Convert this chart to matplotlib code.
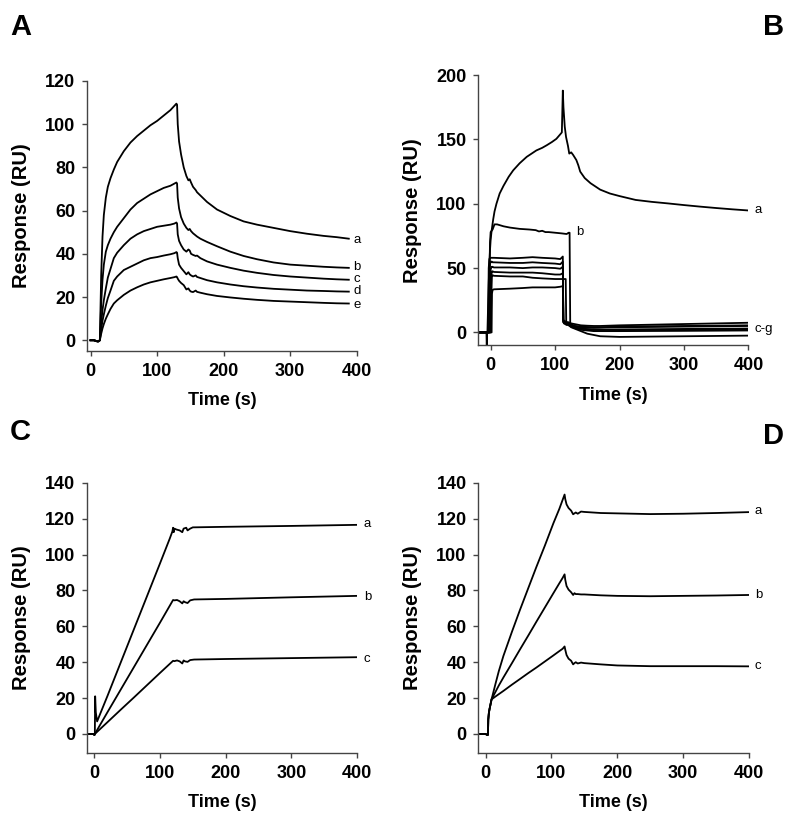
import matplotlib
matplotlib.use("Agg")
import matplotlib.pyplot as plt

plt.rcParams["font.family"] = ["Liberation Sans", "DejaVu Sans"]

# ---------------- Panel A ----------------
A_T = [0, 5, 10, 12, 14, 16, 18, 20, 23, 26, 30, 35, 40, 50, 60, 70, 80, 90, 100, 110,
       120, 126, 129, 130, 131, 133, 136, 140, 144, 147, 149, 151, 154, 158, 160, 165,
       175, 190, 210, 230, 250, 275, 300, 325, 350, 370, 388]
A_a = [0, 0, -0.5, -0.5, 0, 30, 48, 58, 66, 71, 75, 79, 82.5, 87.5, 91.5, 94.5, 97, 99.5, 101.5, 104,
       106.5, 108.5, 109.5, 109, 100, 92, 86, 80, 76, 74, 74.5, 73, 71, 69.5, 68.5, 67,
       64, 60.5, 57.5, 55, 53.5, 52, 50.5, 49.3, 48.3, 47.7, 47]
A_b = [0, 0, -0.5, -0.5, 0, 17, 28, 35, 41, 44, 47, 50, 52.5, 56.5, 60.5, 63.5, 65.5, 67.5, 69, 70.5,
       71.5, 72.5, 73, 72.5, 66, 61, 57, 54, 52, 51, 51.5, 50.5, 49.5, 48.5, 48, 47,
       45.5, 43.5, 41, 39, 37.5, 36, 35, 34.5, 34, 33.7, 33.5]
A_c = [0, 0, -0.5, -0.5, 0, 8, 14, 18.5, 24, 29, 33, 38, 40.5, 44, 47, 49, 50.5, 51.5, 52.5, 53,
       53.5, 54, 54.5, 54, 49, 46, 44, 42, 41, 42, 41.5, 40, 39.5, 39, 39.2, 38,
       36.5, 35, 33.5, 32.2, 31.2, 30.2, 29.5, 29, 28.5, 28.2, 28]
A_d = [0, 0, -0.5, -0.5, 0, 5, 9, 12, 16, 19.5, 23, 27.5, 29.5, 32.5, 34, 35.5, 37, 38, 38.5, 39.2,
       39.8, 40.3, 40.8, 40.5, 38, 35, 33.5, 32, 30.5, 31.5, 30.5, 30, 29.5, 30, 29.3, 28.8,
       27.8, 26.8, 25.8, 25, 24.4, 23.8, 23.4, 23, 22.8, 22.6, 22.5]
A_e = [0, 0, -0.5, -0.5, 0, 3, 5.5, 7.5, 10, 12, 14.5, 17, 18.5, 21, 23, 24.5, 25.8, 26.8, 27.5, 28.2,
       28.8, 29.2, 29.5, 29.2, 28.5, 27.5, 26.5, 25.5, 23.5, 24, 23, 22.5, 22.3, 23, 22.4, 22,
       21.3, 20.5, 19.8, 19.2, 18.7, 18.2, 17.9, 17.6, 17.3, 17.1, 17]
A_LABELS = ["a", "b", "c", "d", "e"]
A_LABEL_Y = [46.5, 34, 28.5, 22.6, 16.2]

# ---------------- Panel B ----------------
B_a_t = [-18, -5, -4, -3, -2, -1, 0, 1.5, 4, 6, 9, 14, 20, 28, 35, 45, 56, 65, 71, 80, 87,
         95, 102, 108, 110.5, 112, 113, 115, 117, 120, 122, 125, 128, 133, 136, 139, 146,
         155, 170, 185, 200, 225, 250, 275, 300, 325, 350, 375, 400]
B_a_y = [0, 0, 20, 38, 52, 64, 72, 79, 88, 94, 100, 108, 114, 121, 126, 131.5, 136.5, 139.5,
         141.5, 143.5, 145.5, 148, 150.5, 154, 155.5, 188, 175, 160, 152, 145, 139, 140, 138,
         134, 130, 125, 120, 116, 111, 108, 106, 103, 101.5, 100.3, 99, 97.8, 96.7, 95.7, 94.8]
B_b_t = [-18, -3, -2, -1, 0, 3, 6, 10, 20, 30, 45, 60, 70, 75, 80, 85, 90, 100, 110, 118,
         121, 122.5, 123.5, 126, 130, 140, 160, 200, 300, 400]
B_b_y = [0, 0, 40, 70, 78, 80, 84, 84, 82.5, 81.5, 80.5, 80, 79.5, 78.5, 79, 78, 78, 77.5,
         77, 76.5, 77.5, 77.5, 6, 6, 5, 4, 3.5, 4, 4.5, 5]
# curves c-g and the lowest trace share one time grid
B_cl_t = [-18, -6.5, -6, -5.5, -4, -3, -2, -1, 0, 1.5, 2, 3, 5, 30, 50, 65, 80, 100, 108,
          112, 112.8, 114, 116.5, 117.3, 120, 125, 130, 140, 150, 160, 170, 200, 300, 400]
B_c = [0, 0, 0, 0, 0, 50, 57, 58, 58, 58, 58, 58, 58, 57.5, 58, 58.5, 58, 57.5, 57,
       59, 10, 9, 8.5, 8, 8, 7, 6.5, 5.5, 5.2, 5, 5, 5.5, 6.5, 7.5]
B_d = [0, 0, 0, 0, 0, 0, 45, 53, 55, 55, 55, 54.5, 54.5, 54, 54, 54.5, 54, 53.5, 53,
       55, 9, 8, 7.5, 7, 7, 6, 5, 4.5, 4.2, 4, 4, 4.5, 5, 5.5]
B_e = [0, 0, 0, 0, 0, 0, 0, 42, 49, 51, 51, 51, 50.5, 50.5, 50, 50.5, 50.5, 50, 49.5,
       51, 9, 7.5, 7, 6.5, 6, 5, 4, 3, 2.5, 2, 2, 2.3, 2.7, 3]
B_f = [0, 0, 0, 0, 0, 0, 0, 0, 40, 46, 47.5, 47.5, 47, 46.5, 46.5, 46.5, 46, 45, 45,
       46, 8, 7, 6.5, 6, 6, 4.5, 3.5, 2, 1.5, 1, 1, 1, 1.2, 1.5]
B_g = [0, 0, 0, 0, 0, 0, 0, 0, 0, 36, 44, 44.5, 44, 43.5, 43.5, 42.5, 42, 41.5, 41.5,
       41.5, 41.5, 41.5, 41.5, 8, 7, 5, 4, 3, 2.5, 2, 2, 1.8, 2, 2.2]
B_h = [0, 0, -12, 0, 0, 0, 0, 0, 0, 0, 30, 33, 33.5, 34, 34.5, 35, 35, 35, 35.5,
       36, 8, 7, 6.5, 6, 6, 4, 3, 1, -1, -2, -3, -3.5, -3, -2.5]
B_LABELS = ["a", "b", "c-g"]
B_LABEL_X = [410, 133, 410]
B_LABEL_Y = [94.8, 78.4, 2.6]

# ---------------- Panel C ----------------
C_a_t = [-10, -1, 0, 1, 1.5, 2.5, 4.5, 10, 20, 40, 60, 80, 100, 115, 119, 120, 121, 122,
         125, 130, 134, 136, 140, 142, 146, 150, 200, 300, 400]
C_a_y = [0, 0, -0.5, -0.5, 21, 12, 7, 12, 21, 39.5, 58, 76.5, 95, 109, 113, 115, 112.5,
         114.5, 114, 113.5, 112.5, 114.5, 115, 113.5, 114.5, 115.2, 115.5, 116, 116.6]
C_b_t = [-10, -1, 0, 1, 20, 40, 60, 80, 100, 120, 122, 126, 130, 134, 136, 138, 142, 146,
         152, 200, 300, 400]
C_b_y = [0, 0, -0.5, 0, 12, 24.5, 37, 49.5, 62, 74.7, 74.5, 74.7, 74, 72.8, 74, 73.5, 73,
         74.5, 75, 75.3, 76.2, 77]
C_c_y = [0, 0, -0.5, 0, 6.5, 13.4, 20.2, 27.1, 34, 40.8, 40.6, 41, 40.5, 39.3, 41, 40.5,
         40.2, 41.2, 41.5, 41.8, 42.3, 42.8]
C_LABELS = ["a", "b", "c"]
C_LABEL_Y = [116.8, 76.6, 41.7]

# ---------------- Panel D ----------------
D_t = [-10, 0, 2, 3.5, 4, 5, 6, 9, 15, 20, 27, 40, 52, 65, 77, 90, 103, 112, 117, 120,
       121, 123, 126, 130, 133, 135, 137, 140, 145, 150, 175, 200, 250, 300, 350, 400]
D_a = [0, 0, -0.5, -0.5, 8, 12, 14, 19.3, 28, 35, 43.5, 57, 69, 81.5, 93, 105, 117.5,
       125.5, 130.5, 133.5, 131, 128, 126, 124.5, 122.5, 123, 123.5, 122.8, 124, 123.8,
       123.2, 123, 122.6, 122.8, 123.2, 123.7]
D_b = [0, 0, -0.5, -0.5, 8, 12, 14, 19.3, 23.5, 27, 31.5, 39.5, 47, 55, 62.5, 70.5,
       78.5, 84, 87, 89, 86, 82.5, 80.5, 79, 77.5, 78.5, 78, 78, 77.8, 77.8, 77.3, 77,
       76.8, 77, 77.2, 77.5]
D_c = [0, 0, -0.5, -0.5, 8, 12, 14, 19.3, 20.9, 22.2, 24, 27.5, 30.6, 34, 37, 40.4, 43.8,
       46.2, 47.5, 48.8, 47, 44, 42, 40.8, 38.8, 39.5, 40, 39.3, 39.8, 39.5, 38.8, 38.2,
       37.8, 37.8, 37.8, 37.7]
D_LABELS = ["a", "b", "c"]
D_LABEL_Y = [124.2, 77.3, 38]

LW = 1.3
SPINE = "#444444"


def style_axis(ax, xlim, ylim, yticks):
    ax.set_xlim(*xlim)
    ax.set_ylim(*ylim)
    ax.set_xticks([0, 100, 200, 300, 400])
    ax.set_yticks(yticks)
    for side in ("top", "right"):
        ax.spines[side].set_visible(False)
    for side in ("left", "bottom"):
        ax.spines[side].set_color(SPINE)
        ax.spines[side].set_linewidth(1.0)
    ax.tick_params(direction="out", length=3.5, width=1.0, color=SPINE,
                   labelsize=13, pad=5)
    for lab in ax.get_xticklabels() + ax.get_yticklabels():
        lab.set_fontweight("bold")
    ax.set_xlabel("Time (s)", fontsize=13, fontweight="bold", labelpad=9)
    ax.set_ylabel("Response (RU)", fontsize=14.5, fontweight="bold", labelpad=10)


def curve_label(ax, x, y, text):
    ax.text(x, y, text, fontsize=9.5, va="center", ha="left", clip_on=False)


fig = plt.figure(figsize=(8.0, 8.26), dpi=100)

# A
axA = fig.add_axes([0.109, 0.575, 0.337, 0.327])
for ys in (A_a, A_b, A_c, A_d, A_e):
    axA.plot(A_T, ys, color="black", lw=LW)
for lab, y in zip(A_LABELS, A_LABEL_Y):
    curve_label(axA, 395, y, lab)
style_axis(axA, (-5, 400), (-5, 120), range(0, 121, 20))

# B
axB = fig.add_axes([0.598, 0.582, 0.3375, 0.327])
axB.plot(B_a_t, B_a_y, color="black", lw=LW)
axB.plot(B_b_t, B_b_y, color="black", lw=LW)
for ys in (B_c, B_d, B_e, B_f, B_g, B_h):
    axB.plot(B_cl_t, ys, color="black", lw=LW)
for lab, x, y in zip(B_LABELS, B_LABEL_X, B_LABEL_Y):
    curve_label(axB, x, y, lab)
style_axis(axB, (-19, 400), (-10, 200), range(0, 201, 50))

# C
axC = fig.add_axes([0.109, 0.0884, 0.3375, 0.327])
axC.plot(C_a_t, C_a_y, color="black", lw=LW)
axC.plot(C_b_t, C_b_y, color="black", lw=LW)
axC.plot(C_b_t, C_c_y, color="black", lw=LW)
for lab, y in zip(C_LABELS, C_LABEL_Y):
    curve_label(axC, 410, y, lab)
style_axis(axC, (-10.6, 400), (-10.6, 140), range(0, 141, 20))

# D
axD = fig.add_axes([0.598, 0.0884, 0.338, 0.327])
for ys in (D_a, D_b, D_c):
    axD.plot(D_t, ys, color="black", lw=LW)
for lab, y in zip(D_LABELS, D_LABEL_Y):
    curve_label(axD, 409, y, lab)
style_axis(axD, (-11, 400), (-10.6, 140), range(0, 141, 20))

# panel letters
for letter, x, y in (("A", 10, 27), ("B", 763, 27), ("C", 10, 432), ("D", 763, 436)):
    fig.text(x / 800, 1 - y / 826, letter, fontsize=21, fontweight="bold",
             ha="left", va="center")

fig.savefig("out.png", dpi=100)
